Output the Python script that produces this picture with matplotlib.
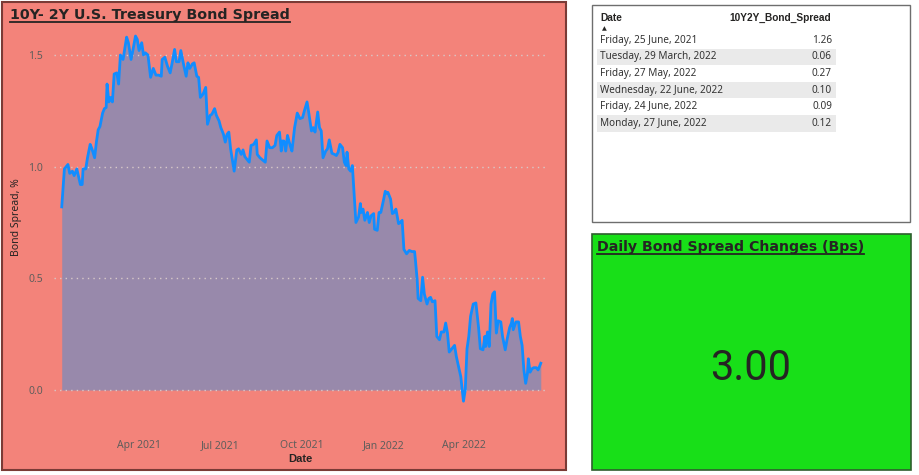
import matplotlib
matplotlib.use('Agg')
import matplotlib.pyplot as plt
import matplotlib.dates as mdates
from matplotlib.patches import Rectangle
from matplotlib.lines import Line2D
import pandas as pd

plt.rcParams['font.family'] = ['Noto Sans', 'DejaVu Sans']

W, H = 920, 475

# daily 10Y-2Y spread (days after START, value in %)
START = '2021-01-04'
day_offset = [
    0, 3, 7, 9, 12, 14, 17, 21, 23, 24, 27, 29, 32, 34, 37, 39, 41, 43, 46, 48,
    50, 51, 53, 55, 57, 59, 62, 64, 66, 69, 71, 73, 75, 78, 80, 83, 85, 87, 90, 92,
    94, 97, 100, 103, 106, 109, 112, 113, 116, 119, 122, 124, 127, 129, 132, 134, 137, 140, 142, 144,
    147, 149, 152, 154, 156, 159, 162, 164, 167, 169, 172, 174, 177, 179, 182, 184, 186, 188, 190, 194,
    197, 199, 202, 204, 206, 209, 211, 213, 216, 219, 220, 223, 226, 229, 231, 234, 237, 240, 242, 245,
    247, 248, 250, 252, 254, 257, 259, 262, 265, 268, 271, 273, 276, 278, 281, 283, 285, 288, 290, 292,
    294, 297, 299, 301, 304, 307, 309, 311, 313, 316, 318, 320, 321, 323, 325, 327, 329, 331, 334, 336,
    337, 339, 341, 344, 346, 348, 351, 352, 355, 357, 359, 362, 364, 366, 367, 370, 372, 374, 376, 379,
    381, 383, 385, 388, 391, 394, 397, 398, 400, 401, 404, 406, 408, 411, 413, 415, 417, 420, 422, 425,
    427, 430, 432, 434, 436, 439, 442, 444, 449, 452, 454, 456, 458, 460, 463, 466, 469, 471, 474, 476,
    477, 479, 481, 483, 485, 487, 489, 491, 494, 496, 499, 501, 504, 506, 507, 508, 511, 514, 516, 518,
    520, 522, 524, 525, 527, 529, 531, 534, 536, 539,
]
spread = [
    0.82, 0.99, 1.01, 0.97, 0.98, 0.96, 0.99, 0.92, 0.92, 0.99, 0.99, 1.04, 1.10, 1.08, 1.04, 1.11, 1.165, 1.18, 1.24, 1.26,
    1.265, 1.37, 1.29, 1.31, 1.29, 1.415, 1.42, 1.37, 1.50, 1.48, 1.53, 1.58, 1.555, 1.48, 1.52, 1.585, 1.57, 1.52, 1.555, 1.50,
    1.51, 1.50, 1.40, 1.44, 1.41, 1.41, 1.405, 1.48, 1.49, 1.45, 1.42, 1.46, 1.525, 1.47, 1.47, 1.52, 1.46, 1.405, 1.465, 1.44,
    1.46, 1.465, 1.405, 1.40, 1.31, 1.325, 1.355, 1.19, 1.23, 1.235, 1.26, 1.23, 1.205, 1.175, 1.145, 1.11, 1.145, 1.155, 1.08, 0.98,
    1.075, 1.08, 1.055, 1.075, 1.045, 1.03, 1.02, 1.095, 1.10, 1.12, 1.055, 1.04, 1.03, 1.02, 1.115, 1.085, 1.085, 1.095, 1.14, 1.155,
    1.07, 1.115, 1.115, 1.07, 1.14, 1.095, 1.07, 1.175, 1.24, 1.215, 1.22, 1.25, 1.29, 1.24, 1.16, 1.175, 1.155, 1.245, 1.175, 1.16,
    1.04, 1.07, 1.08, 1.12, 1.06, 1.055, 1.05, 1.065, 1.10, 1.085, 1.02, 1.005, 1.065, 0.99, 0.98, 1.005, 0.88, 0.75, 0.775, 0.835,
    0.795, 0.81, 0.76, 0.795, 0.75, 0.78, 0.79, 0.72, 0.715, 0.795, 0.795, 0.85, 0.89, 0.88, 0.885, 0.855, 0.79, 0.795, 0.81, 0.745,
    0.75, 0.76, 0.63, 0.61, 0.625, 0.62, 0.62, 0.58, 0.49, 0.41, 0.40, 0.505, 0.43, 0.385, 0.41, 0.415, 0.395, 0.40, 0.24, 0.225,
    0.26, 0.26, 0.30, 0.255, 0.17, 0.185, 0.20, 0.15, 0.06, -0.05, 0.0, 0.185, 0.24, 0.33, 0.385, 0.39, 0.28, 0.185, 0.18, 0.24,
    0.195, 0.26, 0.195, 0.385, 0.43, 0.44, 0.255, 0.31, 0.305, 0.24, 0.18, 0.225, 0.28, 0.30, 0.32, 0.27, 0.305, 0.305, 0.24, 0.20,
    0.09, 0.03, 0.075, 0.14, 0.08, 0.095, 0.10, 0.10, 0.09, 0.12,
]
tick_dates = ['2021-04-01', '2021-07-01', '2021-10-01', '2022-01-01', '2022-04-01']
y_ticks = [0.0, 0.5, 1.0, 1.5]

table_dates = ['Friday, 25 June, 2021', 'Tuesday, 29 March, 2022', 'Friday, 27 May, 2022',
               'Wednesday, 22 June, 2022', 'Friday, 24 June, 2022', 'Monday, 27 June, 2022']
table_spreads = [1.26, 0.06, 0.27, 0.10, 0.09, 0.12]
daily_change_bps = 3.00

SALMON = '#F3837A'
GREEN = '#18DF18'
DARK = '#252423'
GREY = '#605E5C'


def fx(x):
    return x / W


def fy(y):
    return 1 - y / H


def panel(fig, x0, y0, x1, y1, face, edge, lw=1.2):
    fig.add_artist(Rectangle((fx(x0), fy(y1)), fx(x1) - fx(x0), fy(y0) - fy(y1),
                             transform=fig.transFigure, facecolor=face, edgecolor=edge,
                             linewidth=lw, zorder=0))


def underlined(fig, x, y, s, size):
    t = fig.text(fx(x), fy(y), s, fontsize=size, fontweight='heavy', color=DARK,
                 family=['DejaVu Sans'], va='baseline', ha='left')
    r = fig.canvas.get_renderer()
    bb = t.get_window_extent(renderer=r).transformed(fig.transFigure.inverted())
    yl = fy(y + 2.5)
    fig.add_artist(Line2D([bb.x0, bb.x1], [yl, yl], transform=fig.transFigure,
                          color=DARK, linewidth=1.3))
    return t


fig = plt.figure(figsize=(W / 100, H / 100), dpi=100)
fig.patch.set_facecolor('white')

# ---- left panel: line/area chart
panel(fig, 2, 2, 566, 470, SALMON, '#7A3B36', 1.5)
underlined(fig, 10, 19, '10Y- 2Y U.S. Treasury Bond Spread', 10.3)

dates = pd.Timestamp(START) + pd.to_timedelta(day_offset, unit='D')
ax = fig.add_axes([fx(54), fy(405), fx(547) - fx(54), fy(30) - fy(405)])
ax.set_facecolor('none')
ax.fill_between(dates, spread, 0, color='#9889AB', linewidth=0)
ax.plot(dates, spread, color='#118DFF', linewidth=2.0, solid_joinstyle='round')

t0 = pd.Timestamp(START)
ax.set_xlim(t0 - pd.Timedelta(days=8.7), t0 + pd.Timedelta(days=546))
ax.set_ylim(-0.067, 1.612)
ax.set_yticks(y_ticks)
ax.set_yticklabels(['%.1f' % v for v in y_ticks])
ax.set_xticks(pd.to_datetime(tick_dates))
ax.xaxis.set_major_formatter(mdates.DateFormatter('%b %Y'))
ax.tick_params(length=0, labelsize=7.5, labelcolor=GREY)
ax.tick_params(axis='x', pad=25)
ax.tick_params(axis='y', pad=8)
ax.grid(axis='y', color='#D8C9C9', linestyle=(0, (1, 3)), linewidth=1.0)
for s in ax.spines.values():
    s.set_visible(False)
ax.set_xlabel('Date', fontsize=8, color=DARK, labelpad=2,
              family=['Liberation Sans', 'DejaVu Sans'], fontweight='bold')
ax.set_ylabel('Bond Spread, %', fontsize=7.5, color=DARK, labelpad=4)

# ---- top right: table
panel(fig, 592, 5, 910, 222, 'white', '#6E6E6E', 1.0)
hdr = dict(fontsize=7.3, fontweight='bold', color=DARK, family=['Liberation Sans', 'DejaVu Sans'])
fig.text(fx(600), fy(21), 'Date', **hdr)
fig.text(fx(831), fy(21), '10Y2Y_Bond_Spread', ha='right', **hdr)
fig.text(fx(604), fy(30), '\u25B2', fontsize=4.5, color=DARK, ha='center')
row_top = 32
row_h = 16.6
for i, (d, v) in enumerate(zip(table_dates, table_spreads)):
    y0 = row_top + i * row_h
    if i % 2 == 1:
        fig.add_artist(Rectangle((fx(597), fy(y0 + row_h)), fx(836) - fx(597), row_h / H,
                                 transform=fig.transFigure, facecolor='#EAEAEA',
                                 edgecolor='none', zorder=1))
    fig.text(fx(600), fy(y0 + row_h / 2), d, fontsize=7.2, color='#333333', va='center', zorder=2)
    fig.text(fx(832), fy(y0 + row_h / 2), '%.2f' % v, fontsize=7.2, color='#333333',
             va='center', ha='right', zorder=2)

# ---- bottom right: card
panel(fig, 592, 234, 911, 470, GREEN, '#2E5E2E', 1.2)
underlined(fig, 597, 251, 'Daily Bond Spread Changes (Bps)', 10.2)
fig.text(fx(751), fy(368), '%.2f' % daily_change_bps, fontsize=30, color=DARK,
         family=['Roboto', 'DejaVu Sans'], ha='center', va='center')

fig.savefig('out.png', dpi=100, facecolor='white')
